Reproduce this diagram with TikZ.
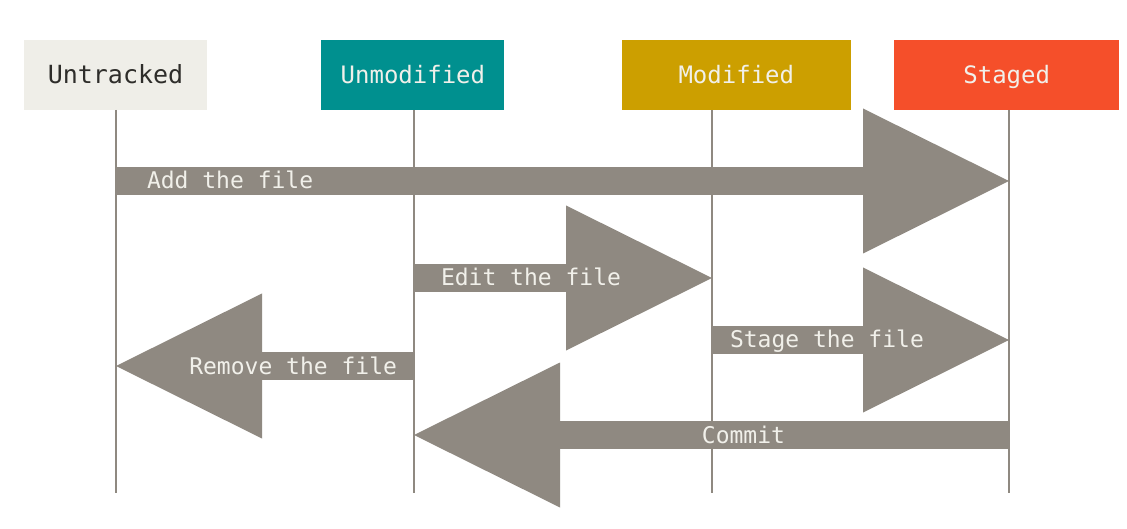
\documentclass[tikz,border=0pt]{standalone}
\usepackage{fontspec}
\setmonofont{DejaVu Sans Mono}
\usetikzlibrary{arrows.meta,positioning}

\definecolor{gitgray}{HTML}{8F8981}
\definecolor{gitlight}{HTML}{F1F0EA}
\definecolor{gitdark}{HTML}{2E2D2A}
\definecolor{untrackedfill}{HTML}{EFEEE8}
\definecolor{unmodifiedfill}{HTML}{00908F}
\definecolor{modifiedfill}{HTML}{CC9F00}
\definecolor{stagedfill}{HTML}{F54F2A}

\tikzset{
    statebox/.style={minimum height=70pt, inner sep=0pt, text=gitlight,
        text height=20pt, text depth=2.5pt,
        font=\ttfamily\fontsize{24}{28}\selectfont},
    lifeline/.style={draw=gitgray, line width=2pt},
    bigarrow/.style={draw=gitgray, line width=28pt,
        -{Triangle[length=146pt,width=145pt,line width=0pt]}},
    arrowtext/.style={text=gitlight, inner sep=0pt, outer sep=0pt, yshift=-8pt,
        font=\ttfamily\fontsize{23}{28}\selectfont}
}

\begin{document}
\begin{tikzpicture}[x=1pt,y=-1pt]
    \path[fill=white, use as bounding box] (0,0) rectangle (1127,529);

    % file states
    \node[statebox, fill=untrackedfill, text=gitdark, minimum width=183pt,
        font=\ttfamily\fontsize{25}{28}\selectfont] (untracked) at (115.5,75) {Untracked};
    \node[statebox, fill=unmodifiedfill, minimum width=183pt, right=114pt of untracked] (unmodified) {Unmodified};
    \node[statebox, fill=modifiedfill, minimum width=229pt, right=117pt of unmodified] (modified) {Modified};
    \node[statebox, fill=stagedfill, minimum width=225pt, right=43pt of modified] (staged) {Staged};

    % life lines below the states
    \foreach \n/\x in {ut/116, um/414, mo/712, st/1009} {
        \coordinate (top \n) at (\x,110);
        \coordinate (bot \n) at (\x,493);
        \draw[lifeline] (top \n) -- (bot \n);
    }

    % transitions
    \draw[bigarrow] (top ut |- 0,181) -- node[arrowtext, pos=0, anchor=base west, xshift=31pt] {Add the file} (top st |- 0,181);
    \draw[bigarrow] (top um |- 0,278) -- node[arrowtext, pos=0, anchor=base west, xshift=27pt] {Edit the file} (top mo |- 0,278);
    \draw[bigarrow] (top mo |- 0,340) -- node[arrowtext, pos=0, anchor=base west, xshift=18pt] {Stage the file} (top st |- 0,340);
    \draw[bigarrow] (top um |- 0,366) -- node[arrowtext, pos=0, anchor=base east, xshift=-17pt] {Remove the file} (top ut |- 0,366);
    \draw[bigarrow] (top st |- 0,435) -- node[arrowtext, pos=0, anchor=base east, xshift=-224pt] {Commit} (top um |- 0,435);
\end{tikzpicture}
\end{document}
